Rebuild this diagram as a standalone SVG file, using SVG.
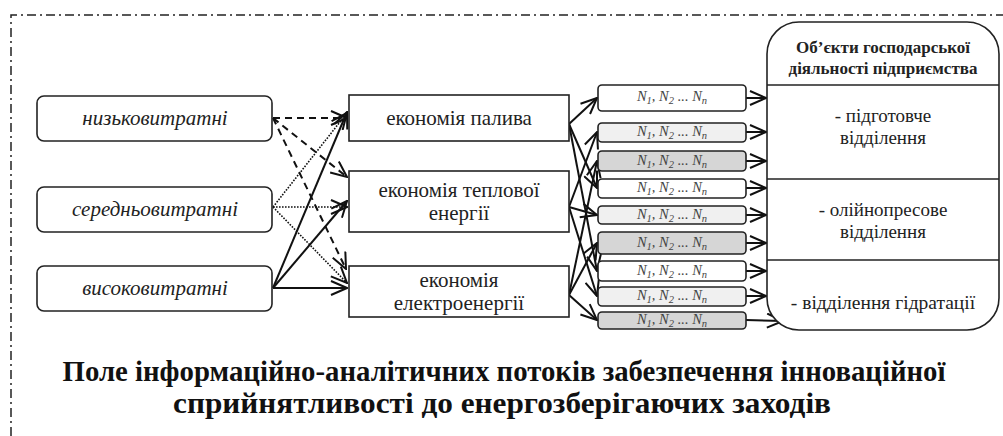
<svg xmlns="http://www.w3.org/2000/svg" width="1003" height="436" viewBox="0 0 1003 436">
<style>
.bg{fill:#ffffff}
.frame{fill:none;stroke:#222;stroke-width:1.5;stroke-dasharray:9 4 2 4}
.lbox{fill:#fff;stroke:#222;stroke-width:1.6}
.mbox{fill:#fff;stroke:#222;stroke-width:1.6}
.nw{fill:#fff;stroke:#222;stroke-width:1.6}
.nl{fill:#f0f0f0;stroke:#222;stroke-width:1.6}
.nd{fill:#d6d6d6;stroke:#222;stroke-width:1.6}
.rbox{fill:#fff;stroke:#222;stroke-width:1.6}
.solid{fill:none;stroke:#111;stroke-width:2}
.dash{fill:none;stroke:#111;stroke-width:2;stroke-dasharray:7 5}
.dot{fill:none;stroke:#111;stroke-width:1.6;stroke-dasharray:1.6 1.4}
</style>
<defs>
<marker id="arr" viewBox="0 0 18 16" refX="17" refY="8" markerWidth="18" markerHeight="16" markerUnits="userSpaceOnUse" orient="auto">
<path d="M1,1 L17,8 L1,15" fill="none" stroke="#111" stroke-width="2" stroke-dasharray="none"/>
</marker>
</defs>
<rect class="bg" x="0" y="0" width="1003" height="436"/>
<path class="frame" d="M11,436 L11,15 L1003,15"/>

<g id="connectors">
<path class="dash" d="M273,118 L347,118" marker-end="url(#arr)"/>
<path class="dash" d="M273,118 L347,177" marker-end="url(#arr)"/>
<path class="dash" d="M273,118 L346,269" marker-end="url(#arr)"/>
<path class="dot" d="M273,207 L347,113" marker-end="url(#arr)"/>
<path class="dot" d="M273,207 L347,207" marker-end="url(#arr)"/>
<path class="dot" d="M273,207 L347,283" marker-end="url(#arr)"/>
<path class="solid" d="M273,288 L347,112" marker-end="url(#arr)"/>
<path class="solid" d="M273,288 L347,201" marker-end="url(#arr)"/>
<path class="solid" d="M273,288 L347,288" marker-end="url(#arr)"/>
<path class="solid" d="M569,124 L597,98" marker-end="url(#arr)"/>
<path class="solid" d="M569,124 L597,188" marker-end="url(#arr)"/>
<path class="solid" d="M569,124 L597,271" marker-end="url(#arr)"/>
<path class="solid" d="M569,207 L597,132" marker-end="url(#arr)"/>
<path class="solid" d="M569,207 L597,215" marker-end="url(#arr)"/>
<path class="solid" d="M569,207 L597,296" marker-end="url(#arr)"/>
<path class="solid" d="M569,295 L597,161" marker-end="url(#arr)"/>
<path class="solid" d="M569,295 L597,243" marker-end="url(#arr)"/>
<path class="solid" d="M569,295 L597,320" marker-end="url(#arr)"/>
<path class="solid" d="M746,98 L766,98" marker-end="url(#arr)"/>
<path class="solid" d="M746,132 L766,132" marker-end="url(#arr)"/>
<path class="solid" d="M746,161 L766,161" marker-end="url(#arr)"/>
<path class="solid" d="M746,188 L766,188" marker-end="url(#arr)"/>
<path class="solid" d="M746,215 L766,215" marker-end="url(#arr)"/>
<path class="solid" d="M746,243 L766,243" marker-end="url(#arr)"/>
<path class="solid" d="M746,271 L766,271" marker-end="url(#arr)"/>
<path class="solid" d="M746,296 L766,296" marker-end="url(#arr)"/>
<path class="solid" d="M746,320 L783,321" marker-end="url(#arr)"/>
</g>

<g font-family="Liberation Serif, serif" font-style="italic" font-size="21" fill="#222" text-anchor="middle">
<g id="low"><rect class="lbox" x="37" y="96" width="235" height="45" rx="7"/><text x="155" y="125">низьковитратні</text></g>
<g id="mid"><rect class="lbox" x="37" y="187" width="235" height="45" rx="7"/><text x="155" y="216">середньовитратні</text></g>
<g id="high"><rect class="lbox" x="37" y="266" width="235" height="45" rx="7"/><text x="155" y="295">високовитратні</text></g>
</g>

<g font-family="Liberation Serif, serif" font-size="21" fill="#222" text-anchor="middle">
<g id="fuel"><rect class="mbox" x="349" y="95" width="220" height="46"/><text x="459" y="125">економія палива</text></g>
<g id="heat"><rect class="mbox" x="349" y="171" width="220" height="61"/><text x="459" y="197">економія теплової</text><text x="459" y="220">енергії</text></g>
<g id="elec"><rect class="mbox" x="349" y="266" width="220" height="51"/><text x="459" y="287">економія</text><text x="459" y="310">електроенергії</text></g>
</g>

<g font-family="Liberation Serif, serif" font-style="italic" font-size="14.5" fill="#444" text-anchor="middle">
<g id="n1"><rect class="nw" x="598" y="85" width="148" height="26" rx="4"/><text x="672" y="101">N<tspan font-size="10.5" dy="3">1</tspan><tspan dy="-3">, N</tspan><tspan font-size="10.5" dy="3">2</tspan><tspan dy="-3"> ... N</tspan><tspan font-size="10.5" dy="3">n</tspan></text></g>
<g id="n2"><rect class="nl" x="598" y="123" width="148" height="19" rx="4"/><text x="672" y="136">N<tspan font-size="10.5" dy="3">1</tspan><tspan dy="-3">, N</tspan><tspan font-size="10.5" dy="3">2</tspan><tspan dy="-3"> ... N</tspan><tspan font-size="10.5" dy="3">n</tspan></text></g>
<g id="n3"><rect class="nd" x="598" y="151" width="148" height="20" rx="4"/><text x="672" y="165">N<tspan font-size="10.5" dy="3">1</tspan><tspan dy="-3">, N</tspan><tspan font-size="10.5" dy="3">2</tspan><tspan dy="-3"> ... N</tspan><tspan font-size="10.5" dy="3">n</tspan></text></g>
<g id="n4"><rect class="nw" x="598" y="179" width="148" height="19" rx="4"/><text x="672" y="192">N<tspan font-size="10.5" dy="3">1</tspan><tspan dy="-3">, N</tspan><tspan font-size="10.5" dy="3">2</tspan><tspan dy="-3"> ... N</tspan><tspan font-size="10.5" dy="3">n</tspan></text></g>
<g id="n5"><rect class="nl" x="598" y="206" width="148" height="18" rx="4"/><text x="672" y="219">N<tspan font-size="10.5" dy="3">1</tspan><tspan dy="-3">, N</tspan><tspan font-size="10.5" dy="3">2</tspan><tspan dy="-3"> ... N</tspan><tspan font-size="10.5" dy="3">n</tspan></text></g>
<g id="n6"><rect class="nd" x="598" y="232" width="148" height="22" rx="4"/><text x="672" y="247">N<tspan font-size="10.5" dy="3">1</tspan><tspan dy="-3">, N</tspan><tspan font-size="10.5" dy="3">2</tspan><tspan dy="-3"> ... N</tspan><tspan font-size="10.5" dy="3">n</tspan></text></g>
<g id="n7"><rect class="nw" x="598" y="261" width="148" height="20" rx="4"/><text x="672" y="275">N<tspan font-size="10.5" dy="3">1</tspan><tspan dy="-3">, N</tspan><tspan font-size="10.5" dy="3">2</tspan><tspan dy="-3"> ... N</tspan><tspan font-size="10.5" dy="3">n</tspan></text></g>
<g id="n8"><rect class="nl" x="598" y="287" width="148" height="19" rx="4"/><text x="672" y="300">N<tspan font-size="10.5" dy="3">1</tspan><tspan dy="-3">, N</tspan><tspan font-size="10.5" dy="3">2</tspan><tspan dy="-3"> ... N</tspan><tspan font-size="10.5" dy="3">n</tspan></text></g>
<g id="n9"><rect class="nd" x="598" y="312" width="148" height="17" rx="4"/><text x="672" y="324">N<tspan font-size="10.5" dy="3">1</tspan><tspan dy="-3">, N</tspan><tspan font-size="10.5" dy="3">2</tspan><tspan dy="-3"> ... N</tspan><tspan font-size="10.5" dy="3">n</tspan></text></g>
</g>

<g id="objects" font-family="Liberation Serif, serif" fill="#222" text-anchor="middle">
<rect class="rbox" x="767" y="22" width="232" height="308" rx="32"/>
<line x1="767" y1="85" x2="999" y2="85" stroke="#222" stroke-width="1.6"/>
<line x1="767" y1="179" x2="999" y2="179" stroke="#222" stroke-width="1.6"/>
<line x1="767" y1="260" x2="999" y2="260" stroke="#222" stroke-width="1.6"/>
<text x="883" y="53" font-weight="bold" font-size="17">Об’єкти господарської</text>
<text x="883" y="74" font-weight="bold" font-size="17">діяльності підприємства</text>
<text x="883" y="122" font-size="19">- підготовче</text>
<text x="883" y="144" font-size="19">відділення</text>
<text x="883" y="216" font-size="19">- олійнопресове</text>
<text x="883" y="238" font-size="19">відділення</text>
<text x="883" y="309" font-size="19.5">- відділення гідратації</text>
</g>

<g id="title" font-family="Liberation Serif, serif" font-weight="bold" font-size="29" fill="#111" text-anchor="middle">
<text x="504" y="381" textLength="883" lengthAdjust="spacingAndGlyphs">Поле інформаційно-аналітичних потоків забезпечення інноваційної</text>
<text x="502" y="413" textLength="658" lengthAdjust="spacingAndGlyphs">сприйнятливості до енергозберігаючих заходів</text>
</g>
</svg>
